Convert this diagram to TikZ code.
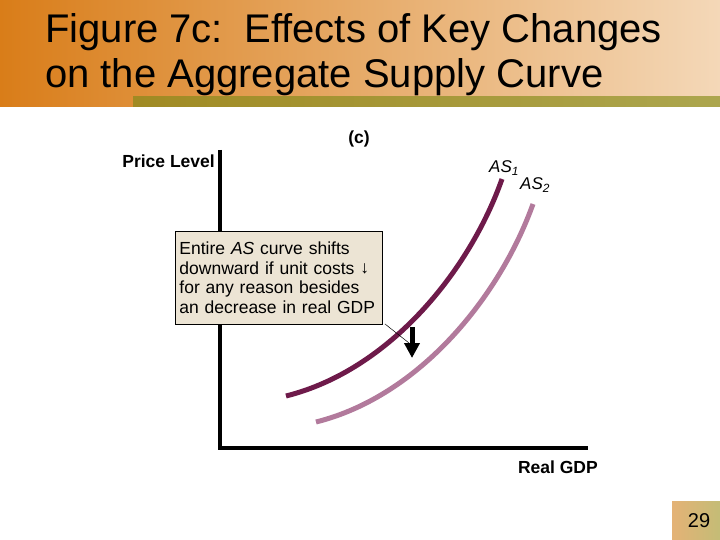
\documentclass[tikz,border=0pt]{standalone}
\usepackage{fontspec}
\setmainfont{Liberation Sans}
\usepackage{tikz}
\usetikzlibrary{arrows.meta,positioning}
\definecolor{HeadOrange}{RGB}{217,125,25}
\definecolor{HeadPeach}{RGB}{244,216,184}
\definecolor{OliveDark}{RGB}{160,138,35}
\definecolor{OliveLight}{RGB}{172,166,78}
\definecolor{CurveDark}{RGB}{110,26,74}
\definecolor{CurveLight}{RGB}{178,122,156}
\definecolor{NoteFill}{RGB}{236,228,212}
\definecolor{PageTan}{RGB}{228,178,118}
\definecolor{PageOlive}{RGB}{196,188,118}

\begin{document}
\begin{tikzpicture}[
  x=1pt,y=-1pt,
  title/.style={anchor=base west,inner sep=0pt,font=\fontsize{40}{44}\selectfont},
  axislabel/.style={inner sep=0pt,font=\fontsize{17.5}{20}\selectfont\bfseries},
  curvelabel/.style={inner sep=0pt,font=\fontsize{17}{20}\selectfont\itshape},
  axis/.style={line width=4pt},
  ascurve/.style={line width=5pt,line cap=butt},
  note/.style={
    draw=black,
    line width=0.9pt,
    fill=NoteFill,
    anchor=north west,
    minimum width=207pt,
    minimum height=93pt,
    inner xsep=4pt,
    inner ysep=3pt,
    align=left,
    text width=199pt,
    font=\fontsize{17.5}{19.5}\selectfont
  },
  shift arrow/.style={-{Triangle[width=15pt,length=15pt]},line width=5pt}
]
\useasboundingbox (0,0) rectangle (720,540);
% header
\shade[left color=HeadOrange,right color=HeadPeach] (0,0) rectangle (720,107);
\shade[left color=OliveDark,right color=OliveLight] (133,97) rectangle (720,107);
\node[title] (title1) at (45,43) {Figure 7c:\, Effects of Key Changes};
\node[title] (title2) at (45,88) {on the Aggregate Supply Curve};

% axes
\coordinate (origin) at (220,448);
\coordinate (ytop) at (220,150);
\coordinate (xend) at (588,448);
\draw[axis] (ytop) -- (origin) -- (xend);
\node[axislabel,anchor=east] (ylabel) at (215,161) {Price Level};
\node[axislabel] (panel) at (359,139) {(c)};
\node[axislabel,anchor=north east] (xlabel) at (598,461) {Real GDP};

% supply curves
\draw[ascurve,CurveDark] (286,396) .. controls (390,370) and (470,270) .. (502,179);
\draw[ascurve,CurveLight] (316,422) .. controls (420,396) and (500,296) .. (533,204);
\node[curvelabel,anchor=base west] (as1) at (489,173) {AS\textsubscript{1}};
\node[curvelabel,anchor=base west] (as2) at (520,190) {AS\textsubscript{2}};

% shift
\coordinate (shifttop) at (412,327);
\coordinate (shiftend) at (412,358);
\draw[shift arrow] (shifttop) -- (shiftend);

% note
\node[note] (callout) at (175,231) {Entire \textit{AS} curve shifts\\downward if unit costs \raisebox{0.5pt}{↓}\\for any reason besides\\an decrease in real GDP};
\coordinate (pointer) at (409,343);
\draw[line width=0.5pt] (callout.south east) ++(2,-1) coordinate (leader) (leader) -- (pointer);

% page number
\shade[left color=PageTan,right color=PageOlive] (672,501) rectangle (720,540);
\node[inner sep=0pt,font=\fontsize{20}{24}\selectfont] (pagenum) at (699,521) {29};
\end{tikzpicture}
\end{document}
